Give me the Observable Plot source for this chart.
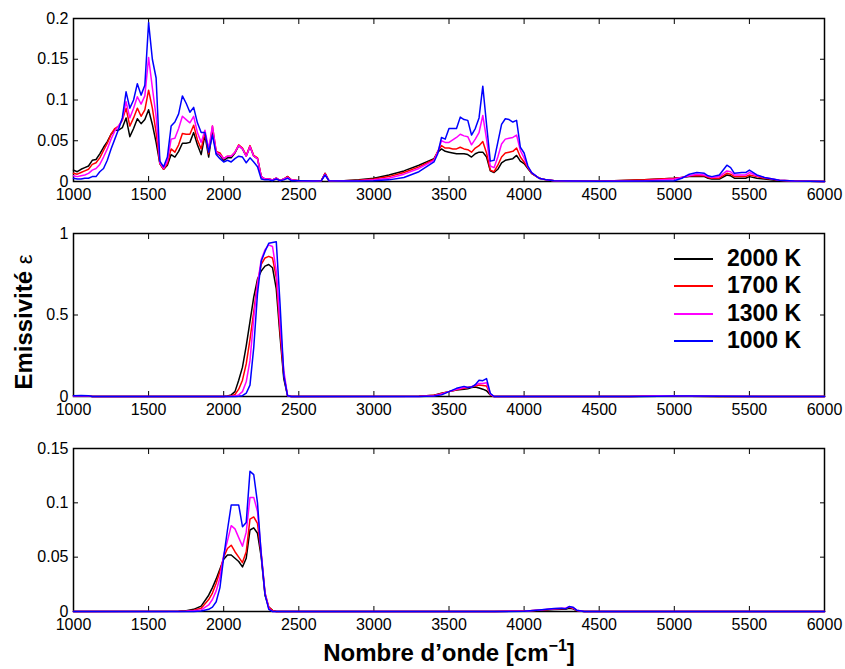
<!DOCTYPE html>
<html><head><meta charset="utf-8">
<script src="https://cdn.jsdelivr.net/npm/d3@7"></script>
<script src="https://cdn.jsdelivr.net/npm/@observablehq/plot@0.6"></script>
<style>
body{margin:0;background:#fff;}
#chart{position:relative;width:845px;height:669px;font-family:"Liberation Sans",Arial,Helvetica,sans-serif;color:#000;}
#chart svg{position:absolute;left:0;}
.ylab{position:absolute;left:24px;top:322px;transform:translate(-50%,-50%) rotate(-90deg);white-space:nowrap;font-weight:bold;font-size:24px;line-height:24px;}
.xlab{position:absolute;left:0;width:898px;top:641px;text-align:center;white-space:nowrap;font-weight:bold;font-size:24px;line-height:24px;}
.leg{position:absolute;left:674px;width:39px;height:2px;}
.legt{position:absolute;left:727px;font-weight:bold;font-size:23px;line-height:23px;white-space:nowrap;}
</style></head><body><div id="chart"></div>
<script>
const temps = ["2000 K","1700 K","1300 K","1000 K"];
const colors = ["#000000","#ff0000","#ff00ff","#0000ff"];
const xTicks = [1000,1500,2000,2500,3000,3500,4000,4500,5000,5500,6000];
const yTicksTop = [0,0.05,0.1,0.15,0.2];
const yTicksMid = [0,0.5,1];
const yTicksBot = [0,0.05,0.1,0.15];

// Panel 1
const xTop = [
 1000,1025,1050,1075,1100,1125,1150,1175,1200,1225,1250,1275,1300,
 1325,1350,1375,1400,1425,1450,1475,1500,1525,1550,1575,1600,
 1625,1650,1675,1700,1725,1750,1775,1800,1825,1850,1875,1900,
 1925,1950,1975,2000,2025,2050,2075,2100,2125,2150,2175,2200,2225,2250,
 2275,2300,2325,2350,2375,2400,2425,2450,
 2500,2600,2650,2675,2700,2800,2900,3000,3100,3200,3300,3400,
 3425,3450,3475,3500,3525,3550,3575,3600,3625,3650,3675,3700,3725,3750,
 3775,3800,3825,3850,3875,3900,3925,3950,3975,4000,4025,4050,
 4100,4150,4200,4300,4500,4800,5000,
 5050,5100,5150,5200,5225,5250,5300,5350,5375,5400,5450,5475,5500,5550,5600,5700,5800,6000];
const top2000 = [
 .014,.012,.015,.017,.019,.026,.027,.034,.042,.049,.058,.063,.063,
 .066,.078,.055,.065,.077,.071,.076,.088,.070,.048,.022,.015,
 .020,.033,.030,.037,.047,.047,.048,.060,.045,.033,.057,.030,
 .063,.035,.032,.026,.029,.029,.035,.044,.040,.031,.043,.031,.028,.006,
 .003,.003,.002,.004,.001,.003,.006,.002,
 .001,.0005,.001,.010,.001,.001,.002,.004,.008,.013,.020,.028,
 .036,.040,.037,.036,.035,.034,.034,.034,.033,.030,.034,.036,.036,.030,
 .013,.011,.015,.023,.026,.027,.028,.032,.025,.022,.016,.010,
 .004,.002,.001,.0005,.0003,.002,.004,
 .005,.006,.006,.006,.004,.003,.003,.008,.007,.004,.004,.004,.006,.004,.003,.001,.0005,0];
const top1700 = [
 .010,.009,.011,.013,.015,.021,.023,.029,.038,.047,.058,.065,.068,
 .075,.090,.068,.078,.090,.080,.088,.112,.090,.060,.022,.015,
 .022,.040,.036,.045,.059,.058,.058,.069,.051,.040,.060,.034,
 .068,.037,.035,.028,.031,.031,.036,.045,.041,.032,.044,.032,.029,.006,
 .003,.003,.002,.004,.001,.003,.006,.002,
 .001,.0005,.001,.010,.001,.001,.0015,.003,.006,.011,.018,.027,
 .037,.044,.041,.041,.040,.040,.042,.040,.039,.036,.041,.044,.049,.035,
 .014,.012,.020,.030,.035,.036,.037,.041,.030,.024,.017,.010,
 .004,.002,.001,.0005,.0003,.002,.004,
 .005,.007,.007,.007,.005,.004,.004,.010,.009,.006,.006,.006,.008,.006,.004,.0015,.0005,0];
const top1300 = [
 .007,.006,.007,.008,.010,.014,.016,.021,.030,.040,.052,.062,.068,
 .076,.098,.078,.090,.104,.095,.105,.152,.115,.080,.023,.016,
 .025,.052,.053,.065,.080,.076,.072,.080,.060,.048,.063,.040,
 .068,.036,.033,.028,.031,.031,.036,.044,.040,.031,.043,.031,.028,.006,
 .003,.003,.002,.004,.001,.003,.005,.002,
 .001,.0005,.001,.009,.001,.0008,.001,.002,.004,.009,.016,.026,
 .036,.050,.048,.048,.051,.054,.058,.056,.055,.045,.052,.060,.081,.052,
 .019,.017,.030,.046,.052,.053,.054,.057,.038,.029,.018,.011,
 .004,.002,.001,.0005,.0003,.001,.003,
 .005,.007,.009,.008,.006,.005,.006,.013,.012,.008,.008,.008,.011,.007,.005,.0015,.0005,0];
const top1000 = [
 .004,.003,.003,.004,.004,.006,.006,.012,.016,.026,.040,.052,.064,
 .078,.110,.090,.100,.120,.106,.118,.195,.150,.127,.025,.018,
 .030,.068,.073,.083,.105,.096,.085,.091,.072,.060,.060,.036,
 .057,.033,.028,.024,.026,.024,.028,.031,.030,.023,.029,.024,.018,.003,
 .002,.002,.001,.003,.001,.002,.004,.001,
 .001,.0005,.001,.008,.001,.0005,.0005,.001,.002,.005,.012,.024,
 .034,.054,.052,.065,.065,.065,.079,.076,.075,.057,.065,.078,.117,.070,
 .025,.026,.048,.070,.077,.076,.073,.075,.042,.035,.019,.011,
 .004,.002,.001,.0005,.0003,.0005,.001,
 .004,.009,.011,.010,.007,.006,.008,.020,.017,.010,.011,.011,.014,.008,.005,.0015,.0005,0];

// Panel 2
const xMid = [
 1000,1050,1100,1125,
 2000,2025,2050,2075,2100,2125,2150,2175,2200,2225,2250,2275,2300,2325,2350,2375,2400,2425,2450,
 3300,3400,3450,3500,3550,3600,3625,3650,3675,3700,3725,3750,3775,3800,
 4700,4900,5000,5100,5300,6000];
const mid2000 = [
 .004,.005,.004,0,
 0,.003,.010,.030,.10,.18,.31,.46,.61,.72,.77,.80,.81,.79,.66,.37,.11,.005,0,
 .001,.008,.02,.03,.04,.045,.048,.055,.058,.052,.045,.035,.01,0,
 0,.002,.002,.001,0,0];
const mid1700 = [
 .004,.005,.004,0,
 0,.001,.004,.012,.045,.10,.20,.35,.52,.70,.81,.85,.86,.85,.73,.40,.13,.005,0,
 .001,.007,.018,.03,.042,.05,.055,.06,.065,.07,.068,.065,.012,0,
 0,.004,.004,.002,0,0];
const mid1300 = [
 .003,.004,.003,0,
 0,0,.001,.003,.010,.030,.09,.22,.48,.69,.84,.90,.93,.92,.77,.45,.16,.005,0,
 .0005,.005,.015,.03,.045,.055,.055,.06,.07,.08,.08,.085,.015,0,
 0,.005,.005,.003,.001,0];
const mid1000 = [
 .005,.006,.005,0,
 0,0,0,0,.001,.005,.02,.07,.30,.63,.83,.89,.94,.945,.95,.57,.13,.005,0,
 0,.003,.01,.03,.05,.062,.055,.058,.072,.10,.097,.11,.02,0,
 0,.002,.003,.003,.001,0];

// Panel 3
const xBot = [
 1000,1700,1750,1800,1850,1900,
 1925,1950,1975,2000,2025,2050,2075,2100,2125,2150,2175,2200,2225,2250,2275,2300,2325,2350,
 3800,4000,4100,4200,4250,4275,4300,4325,4350,4400,6000];
const bot2000 = [
 0,.0003,.0008,.002,.005,.015,
 .022,.030,.039,.048,.052,.052,.049,.046,.041,.049,.075,.077,.072,.050,.015,.004,.001,0,
 0,.0005,.001,.0018,.002,.002,.003,.0025,.0008,0,0];
const bot1700 = [
 0,.0002,.0005,.0012,.003,.011,
 .017,.026,.037,.050,.058,.061,.055,.050,.045,.055,.085,.087,.081,.052,.017,.004,.001,0,
 0,.0004,.0012,.0022,.0025,.0026,.004,.003,.001,0,0];
const bot1300 = [
 0,.0001,.0002,.0006,.0015,.006,
 .011,.019,.031,.052,.065,.079,.076,.068,.060,.073,.105,.105,.092,.054,.017,.003,0,0,
 0,.0003,.0013,.0025,.003,.003,.0045,.0035,.0012,0,0];
const bot1000 = [
 0,0,0,.0001,.0004,.002,
 .004,.009,.022,.050,.075,.098,.098,.098,.078,.082,.129,.126,.100,.052,.016,.002,0,0,
 0,.0002,.0013,.0027,.003,.0025,.0045,.004,.0012,0,0];

function rows(xs, series) {
  return temps.flatMap((t, i) => xs.map((x, j) => ({x, y: series[i][j], t})));
}

const chart = document.getElementById("chart");
const FONT = "'Liberation Sans', Arial, Helvetica, sans-serif";

function panel(data, yMax, yTicks, top) {
  const svg = Plot.plot({
    width: 845, height: 200,
    marginLeft: 73, marginRight: 21, marginTop: 18, marginBottom: 19,
    style: {fontFamily: FONT, fontSize: "16px", color: "#000", background: "transparent", overflow: "visible"},
    x: {domain: [1000, 6000]},
    y: {domain: [0, yMax]},
    color: {domain: temps, range: colors},
    marks: [
      Plot.frame({stroke: "#000", strokeWidth: 1.5}),
      Plot.axisX({ticks: xTicks, tickSize: 0, tickPadding: 7, tickFormat: d => String(d), label: null}),
      Plot.axisX({ticks: xTicks, tickSize: -5, tickFormat: () => "", label: null}),
      Plot.axisX({anchor: "top", ticks: xTicks, tickSize: -5, tickFormat: () => "", label: null}),
      Plot.axisY({ticks: yTicks, tickSize: 0, tickPadding: 5, tickFormat: d => String(d), label: null}),
      Plot.axisY({ticks: yTicks, tickSize: -5, tickFormat: () => "", label: null}),
      Plot.axisY({anchor: "right", ticks: yTicks, tickSize: -5, tickFormat: () => "", label: null}),
      Plot.line(data, {x: "x", y: "y", z: "t", stroke: "t", strokeWidth: 1.5})
    ]
  });
  svg.style.top = top + "px";
  chart.appendChild(svg);
}

panel(rows(xTop, [top2000, top1700, top1300, top1000]), 0.2, yTicksTop, 0);
panel(rows(xMid, [mid2000, mid1700, mid1300, mid1000]), 1, yTicksMid, 215);
panel(rows(xBot, [bot2000, bot1700, bot1300, bot1000]), 0.15, yTicksBot, 430);

// labels
const yl = document.createElement("div");
yl.className = "ylab";
yl.innerHTML = "Emissivité <span style=\"font-weight:normal;font-size:22px\">ε</span>";
chart.appendChild(yl);

const xl = document.createElement("div");
xl.className = "xlab";
xl.innerHTML = "Nombre d’onde [cm<sup style=\"font-size:16px;line-height:0;vertical-align:10px\">−1</sup>]";
chart.appendChild(xl);

// legend
const legY = [259, 286, 314, 341];
temps.forEach((t, i) => {
  const l = document.createElement("div");
  l.className = "leg";
  l.style.top = (legY[i] - 1) + "px";
  l.style.background = colors[i];
  chart.appendChild(l);
  const tx = document.createElement("div");
  tx.className = "legt";
  tx.style.top = (legY[i] - 12) + "px";
  tx.textContent = t;
  chart.appendChild(tx);
});
</script></body></html>
